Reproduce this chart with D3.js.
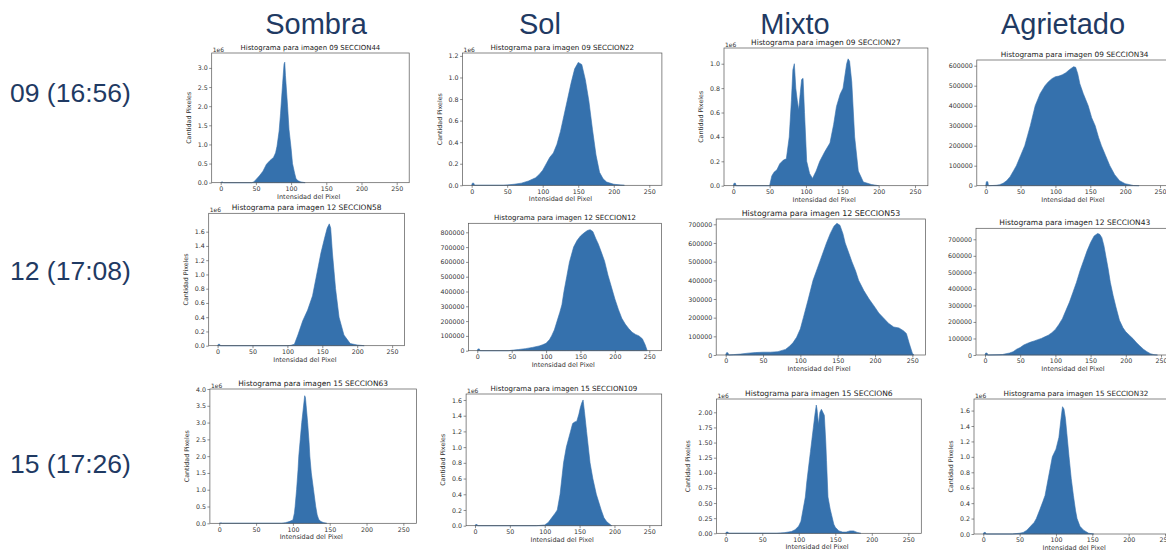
<!DOCTYPE html>
<html>
<head>
<meta charset="utf-8">
<script src="https://cdn.jsdelivr.net/npm/d3@7"></script>
<style>
  body { margin: 0; background: #fff; }
  svg { display: block; }
</style>
</head>
<body>
<svg id="chart" width="1166" height="550"></svg>
<script>
// column / row headers
var columns = ["Sombra", "Sol", "Mixto", "Agrietado"];
var rows = ["09 (16:56)", "12 (17:08)", "15 (17:26)"];
var xTicks = [0, 50, 100, 150, 200, 250];

// histograms: [intensity, count]
var h09Sombra = [[0,0],[1,0.02],[3,0.02],[4,0],[44,0],[47,0.02],[50,0.08],[55,0.18],[60,0.3],[65,0.48],[70,0.58],[75,0.66],[78,0.78],[80,0.95],[83,1.35],[85,1.8],[88,2.6],[90,3.1],[91,3.15],[92,2.8],[95,2.0],[97,1.4],[100,0.9],[102,0.5],[105,0.25],[107,0.1],[110,0.05],[114,0.02],[120,0]];
var h09Sol = [[0,0],[1,0.02],[3,0.02],[4,0],[45,0],[50,0.003],[60,0.01],[70,0.02],[80,0.04],[90,0.07],[95,0.1],[100,0.14],[105,0.2],[110,0.26],[115,0.3],[120,0.38],[125,0.5],[130,0.65],[135,0.8],[140,0.95],[145,1.08],[150,1.14],[155,1.12],[160,0.98],[165,0.78],[170,0.52],[175,0.28],[180,0.12],[185,0.06],[190,0.03],[200,0.01],[210,0.003],[215,0]];
var h09Mixto = [[0,0],[1,0.02],[3,0.02],[4,0],[50,0],[53,0.08],[56,0.11],[60,0.13],[64,0.18],[69,0.21],[73,0.22],[77,0.4],[80,0.7],[82,0.95],[84,1.0],[86,0.8],[88,0.7],[90,0.62],[92,0.75],[94,0.87],[96,0.88],[98,0.6],[101,0.2],[105,0.1],[109,0.06],[114,0.12],[119,0.2],[126,0.28],[133,0.35],[138,0.5],[142,0.65],[147,0.75],[151,0.8],[156,1.0],[158,1.04],[160,1.02],[163,0.85],[167,0.4],[172,0.12],[179,0.03],[190,0.01],[200,0]];
var h09Agrietado = [[0,0],[1,20000],[3,20000],[4,0],[15,2000],[20,5000],[25,12000],[30,25000],[35,45000],[40,75000],[44,100000],[50,150000],[56,200000],[60,250000],[64,300000],[71,400000],[78,460000],[85,500000],[90,520000],[95,535000],[100,545000],[105,548000],[110,555000],[115,565000],[120,580000],[126,595000],[129,592000],[132,560000],[135,510000],[140,460000],[147,400000],[152,340000],[157,300000],[162,240000],[166,200000],[172,150000],[178,100000],[185,55000],[192,25000],[200,10000],[212,1000],[220,0]];

var h12Sombra = [[0,0],[1,0.02],[3,0.02],[4,0],[100,0],[105,0.005],[110,0.02],[115,0.15],[122,0.35],[129,0.5],[136,0.7],[141,0.95],[148,1.3],[153,1.5],[157,1.65],[160,1.71],[162,1.65],[164.5,1.3],[169,0.8],[174,0.4],[181,0.15],[190,0.03],[200,0.01],[210,0]];
var h12Sol = [[0,0],[1,12000],[3,12000],[4,0],[45,0],[50,3000],[60,8000],[70,14000],[80,22000],[90,32000],[95,40000],[100,50000],[105,75000],[108,100000],[112,140000],[116,200000],[120,260000],[123,310000],[126,400000],[130,500000],[134,600000],[140,700000],[145,745000],[150,775000],[155,795000],[160,812000],[164,818000],[168,805000],[172,760000],[176,720000],[180,670000],[185,605000],[190,510000],[195,430000],[200,350000],[205,280000],[210,220000],[215,180000],[220,150000],[225,125000],[230,110000],[235,100000],[240,80000],[244,40000],[247,0]];
var h12Mixto = [[0,0],[1,12000],[3,12000],[4,0],[10,2000],[20,5000],[30,10000],[40,13000],[50,15000],[60,15000],[70,18000],[80,30000],[85,45000],[90,65000],[95,95000],[100,140000],[104,200000],[110,290000],[117,400000],[126,500000],[135,600000],[140,650000],[145,690000],[149,705000],[153,695000],[157,650000],[160,600000],[165,545000],[169,500000],[174,450000],[178,400000],[185,345000],[192,300000],[200,255000],[205,225000],[211,200000],[218,170000],[225,150000],[232,145000],[238,130000],[242,115000],[246,60000],[250,10000],[252,0]];
var h12Agrietado = [[0,0],[1,12000],[3,12000],[4,0],[20,2000],[25,3000],[30,8000],[35,12000],[40,20000],[45,35000],[50,45000],[55,60000],[60,70000],[65,78000],[70,85000],[75,93000],[80,100000],[85,110000],[90,120000],[95,135000],[100,155000],[105,185000],[110,220000],[115,270000],[120,320000],[125,380000],[130,440000],[135,510000],[140,570000],[145,630000],[150,680000],[155,720000],[160,735000],[163,730000],[166,710000],[169,660000],[172,590000],[175,520000],[178,440000],[182,360000],[186,290000],[191,210000],[196,165000],[200,140000],[205,120000],[210,100000],[215,75000],[220,55000],[225,35000],[230,20000],[235,8000],[240,2000],[245,0]];

var h15Sombra = [[0,0],[1,0.01],[3,0.01],[4,0],[85,0],[90,0.02],[95,0.05],[100,0.1],[102,0.3],[103,0.5],[105,1.0],[107,1.6],[108,2.0],[110,2.5],[112,3.0],[114,3.4],[116,3.8],[117,3.75],[118,3.5],[120,3.0],[122,2.4],[123,2.0],[125,1.5],[128,1.0],[131,0.5],[133,0.25],[135,0.12],[138,0.05],[142,0.02],[146,0]];
var h15Sol = [[0,0],[1,0.015],[3,0.015],[4,0],[88,0],[95,0.005],[100,0.01],[105,0.04],[110,0.1],[115,0.16],[118,0.2],[122,0.4],[127,0.8],[131,1.0],[137,1.2],[140,1.3],[143,1.32],[146,1.33],[149,1.42],[151,1.5],[153,1.56],[155,1.6],[157,1.45],[160,1.2],[165,0.8],[169,0.6],[174,0.4],[181,0.2],[185,0.1],[189,0.05],[196,0]];
var h15Mixto = [[0,0],[1,0.02],[3,0.02],[4,0],[70,0],[75,0.005],[80,0.01],[90,0.03],[95,0.06],[100,0.12],[103,0.2],[106,0.4],[109,0.6],[111,0.85],[113,1.05],[116,1.35],[118,1.55],[120,1.75],[122,1.95],[124,2.12],[125,2.05],[127,1.8],[129,2.0],[131,2.05],[133,2.0],[135,1.95],[137,1.5],[138,1.2],[140,0.6],[143,0.4],[145,0.3],[148,0.15],[150,0.1],[155,0.04],[160,0.02],[165,0.02],[170,0.04],[175,0.04],[180,0.015],[185,0]];
var h15Agrietado = [[0,0],[1,0.02],[3,0.02],[4,0],[40,0],[45,0.005],[50,0.01],[55,0.02],[60,0.05],[65,0.1],[70,0.15],[73,0.2],[78,0.32],[82,0.42],[85,0.5],[88,0.65],[92,0.85],[95,1.0],[100,1.1],[104,1.25],[107,1.5],[109,1.65],[111,1.62],[113,1.5],[115,1.3],[118,1.0],[121,0.72],[124,0.5],[127,0.3],[129,0.2],[133,0.1],[138,0.05],[145,0.01],[152,0]];

// y tick values per panel
var yTicks1e6a = [0, 0.5, 1.0, 1.5, 2.0, 2.5, 3.0];
var yTicks1e6b = [0, 0.2, 0.4, 0.6, 0.8, 1.0, 1.2];
var yTicks1e6c = [0, 0.2, 0.4, 0.6, 0.8, 1.0];
var yTicks1e6d = [0, 0.2, 0.4, 0.6, 0.8, 1.0, 1.2, 1.4, 1.6];
var yTicks1e6e = [0, 0.5, 1.0, 1.5, 2.0, 2.5, 3.0, 3.5, 4.0];
var yTicks1e6f = [0, 0.25, 0.5, 0.75, 1.0, 1.25, 1.5, 1.75, 2.0];
var yTicksRaw6 = [0, 100000, 200000, 300000, 400000, 500000, 600000];
var yTicksRaw7 = [0, 100000, 200000, 300000, 400000, 500000, 600000, 700000];
var yTicksRaw8 = [0, 100000, 200000, 300000, 400000, 500000, 600000, 700000, 800000];

var panels = [
  {img:"09", sec:"SECCION44", data:h09Sombra, yt:yTicks1e6a, fmt:".1f", e6:true, ylab:true, ymax:3.39, box:[211.7,53,409.2,182.7], tw:140},
  {img:"09", sec:"SECCION22", data:h09Sol, yt:yTicks1e6b, fmt:".1f", e6:true, ylab:true, ymax:1.227, box:[462.6,53,661.9,185.3], tw:144},
  {img:"09", sec:"SECCION27", data:h09Mixto, yt:yTicks1e6c, fmt:".1f", e6:true, ylab:true, ymax:1.129, box:[724.0,48,927.9,185.7], tw:150},
  {img:"09", sec:"SECCION34", data:h09Agrietado, yt:yTicksRaw6, fmt:"d", e6:false, ylab:false, ymax:628500, box:[976.8,60,1172.4,185.7], tw:148},
  {img:"12", sec:"SECCION58", data:h12Sombra, yt:yTicks1e6d, fmt:".1f", e6:true, ylab:true, ymax:1.858, box:[208.7,213.3,404.5,345.7], tw:150},
  {img:"12", sec:"SECCION12", data:h12Sol, yt:yTicksRaw8, fmt:"d", e6:false, ylab:false, ymax:860800, box:[468.5,223.3,661.5,350.7], tw:142},
  {img:"12", sec:"SECCION53", data:h12Mixto, yt:yTicksRaw7, fmt:"d", e6:false, ylab:false, ymax:728400, box:[716.2,219,925.6,355], tw:159},
  {img:"12", sec:"SECCION43", data:h12Agrietado, yt:yTicksRaw7, fmt:"d", e6:false, ylab:false, ymax:766500, box:[976,228.3,1173.5,355], tw:151},
  {img:"15", sec:"SECCION63", data:h15Sombra, yt:yTicks1e6e, fmt:".1f", e6:true, ylab:true, ymax:4.0, box:[209.9,389,416.4,523.3], tw:150},
  {img:"15", sec:"SECCION109", data:h15Sol, yt:yTicks1e6d, fmt:".1f", e6:true, ylab:true, ymax:1.676, box:[466.1,394,661.7,525.7], tw:147},
  {img:"15", sec:"SECCION6", data:h15Mixto, yt:yTicks1e6f, fmt:".2f", e6:true, ylab:true, ymax:2.22, box:[716.4,399,921.3,533.3], tw:148},
  {img:"15", sec:"SECCION32", data:h15Agrietado, yt:yTicks1e6d, fmt:".1f", e6:true, ylab:true, ymax:1.75, box:[974.0,399,1177.9,534], tw:145}
];

var svg = d3.select("#chart");
var navy = "#1f3a63";
var txt = "#333";
var fill = "#3571ad";
var font = "DejaVu Sans, sans-serif";

// headers
var colX = [316, 540, 795, 1063];
svg.selectAll("text.col").data(columns).enter().append("text")
  .attr("class", "col")
  .attr("x", function(d, i){ return colX[i] })
  .attr("y", 34)
  .attr("text-anchor", "middle")
  .attr("font-family", "Liberation Sans, Arial, sans-serif")
  .attr("font-size", 29)
  .attr("fill", navy)
  .text(function(d){ return d });

var rowY = [102, 280, 473];
svg.selectAll("text.row").data(rows).enter().append("text")
  .attr("class", "row")
  .attr("x", 10)
  .attr("y", function(d, i){ return rowY[i] })
  .attr("font-family", "Liberation Sans, Arial, sans-serif")
  .attr("font-size", 26.5)
  .attr("fill", navy)
  .text(function(d){ return d });

function drawPanel(p){
  var l = p.box[0], t = p.box[1], r = p.box[2], b = p.box[3];
  var g = svg.append("g");
  var x = d3.scaleLinear().domain([-12.75, 267.75]).range([l, r]);
  var y = d3.scaleLinear().domain([0, p.ymax]).range([b, t]);

  var area = d3.area()
    .x(function(d){ return x(d[0]) })
    .y0(b)
    .y1(function(d){ return y(d[1]) });
  g.append("path").datum(p.data)
    .attr("d", area)
    .attr("fill", fill)
    .attr("stroke", fill)
    .attr("stroke-width", 0.6);

  var xAxis = d3.axisBottom(x).tickValues(xTicks).tickSize(2.5).tickPadding(1.5);
  var yAxis = d3.axisLeft(y).tickValues(p.yt).tickSize(2.5).tickPadding(1.5)
    .tickFormat(d3.format(p.fmt));
  var ga = g.append("g").attr("transform", "translate(0," + b + ")").call(xAxis);
  var gb = g.append("g").attr("transform", "translate(" + l + ",0)").call(yAxis);
  [ga, gb].forEach(function(a){
    a.select(".domain").remove();
    a.selectAll("line").attr("stroke", "#444").attr("stroke-width", 0.6);
    a.selectAll("text").attr("font-family", font).attr("font-size", 6.3).attr("fill", txt);
  });

  g.append("rect")
    .attr("x", l).attr("y", t)
    .attr("width", r - l).attr("height", b - t)
    .attr("fill", "none").attr("stroke", "#555").attr("stroke-width", 0.7);

  var title = g.append("text")
    .attr("x", (l + r) / 2)
    .attr("y", t - 3)
    .attr("text-anchor", "middle")
    .attr("font-family", font)
    .attr("font-size", 8)
    .attr("fill", "#222")
    .text("Histograma para imagen " + p.img + " " + p.sec);
  var w = title.node().getComputedTextLength();
  title.attr("font-size", 8 * p.tw / w);

  if (p.e6) {
    g.append("text")
      .attr("x", l + 1).attr("y", t - 1.5)
      .attr("font-family", font).attr("font-size", 6)
      .attr("fill", txt)
      .text("1e6");
  }

  g.append("text")
    .attr("x", x(125)).attr("y", b + 16)
    .attr("text-anchor", "middle")
    .attr("font-family", font).attr("font-size", 6.5)
    .attr("fill", txt)
    .text("Intensidad del Pixel");

  if (p.ylab) {
    var lw = p.fmt == ".2f" ? 26 : 21;
    g.append("text")
      .attr("transform", "translate(" + (l - lw) + "," + ((t + b) / 2) + ") rotate(-90)")
      .attr("text-anchor", "middle")
      .attr("font-family", font).attr("font-size", 6.3)
      .attr("fill", txt)
      .text("Cantidad Pixeles");
  }
}

panels.forEach(drawPanel);
</script>
</body>
</html>
